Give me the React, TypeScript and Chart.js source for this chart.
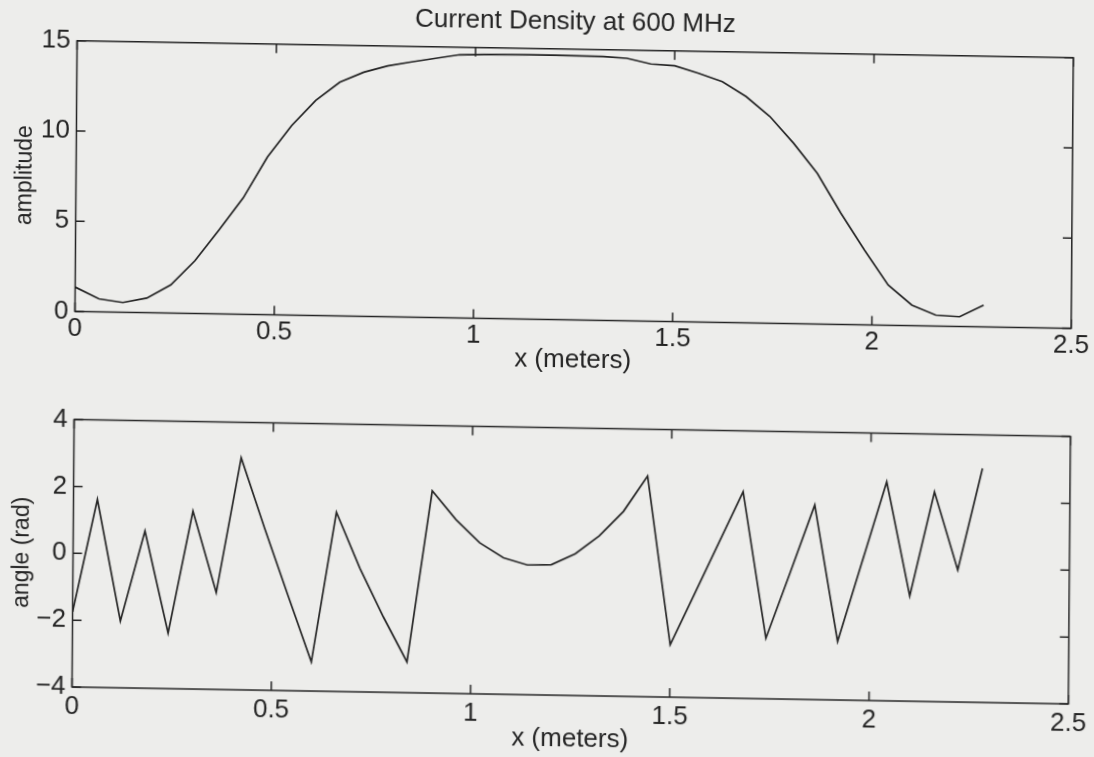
import React, { useEffect, useRef } from "react";
import { Chart, registerables } from "chart.js";

Chart.register(...registerables);

// ---- data ----
const xMeters = [
  0, 0.06, 0.12, 0.18, 0.24, 0.3, 0.36, 0.42, 0.48, 0.54, 0.6, 0.66, 0.72,
  0.78, 0.84, 0.9, 0.96, 1.02, 1.08, 1.14, 1.2, 1.26, 1.32, 1.38, 1.44, 1.5,
  1.56, 1.62, 1.68, 1.74, 1.8, 1.86, 1.92, 1.98, 2.04, 2.1, 2.16, 2.22, 2.28,
];

const amplitude = [
  1.35, 0.72, 0.54, 0.81, 1.56, 2.92, 4.65, 6.45, 8.74, 10.5, 11.92, 12.95,
  13.52, 13.9, 14.14, 14.36, 14.58, 14.62, 14.63, 14.64, 14.64, 14.63, 14.62,
  14.54, 14.25, 14.17, 13.78, 13.34, 12.53, 11.45, 9.99, 8.35, 6.16, 4.14,
  2.23, 1.14, 0.61, 0.54, 1.21,
];

const angleRad = [
  -1.75, 1.62, -2.0, 0.7, -2.34, 1.32, -1.1, 2.94, 0.85, -1.15, -3.13, 1.36,
  -0.3, -1.75, -3.08, 2.05, 1.2, 0.52, 0.08, -0.12, -0.1, 0.24, 0.79, 1.53,
  2.6, -2.43, -0.9, 0.64, 2.18, -2.19, -0.2, 1.82, -2.25, 0.15, 2.55, -0.85,
  2.27, -0.05, 3.0,
];

const xTickValues = [0, 0.5, 1, 1.5, 2, 2.5];
const ampTickValues = [0, 5, 10, 15];
const angleTickValues = [-4, -2, 0, 2, 4];

const chartTitle = "Current Density at 600 MHz";
const xLabel = "x (meters)";
const ampLabel = "amplitude";
const angleLabel = "angle (rad)";

// ---- styling ----
const INK = "#242424";
const PAPER = "#ededeb";
const FONT = "'Liberation Sans', Arial, Helvetica, sans-serif";
const TEXT_SIZE = 26;
const YTITLE_SIZE = 23;
const TICK_LEN = 9;

const frameTicks = {
  id: "frameTicks",
  afterDatasetsDraw(chart: any) {
    const { ctx, chartArea } = chart;
    const { left, right, top, bottom } = chartArea;
    const xs = chart.scales.x;
    const ys = chart.scales.y;
    ctx.save();
    ctx.strokeStyle = INK;
    ctx.lineWidth = 1.5;
    ctx.beginPath();
    ctx.rect(left, top, right - left, bottom - top);
    ctx.stroke();
    ctx.beginPath();
    xs.ticks.forEach((t: any) => {
      const px = xs.getPixelForValue(t.value);
      ctx.moveTo(px, bottom);
      ctx.lineTo(px, bottom - TICK_LEN);
      ctx.moveTo(px, top);
      ctx.lineTo(px, top + TICK_LEN);
    });
    ys.ticks.forEach((t: any) => {
      const py = ys.getPixelForValue(t.value);
      ctx.moveTo(left, py);
      ctx.lineTo(left + TICK_LEN, py);
      ctx.moveTo(right, py);
      ctx.lineTo(right - TICK_LEN, py);
    });
    ctx.stroke();
    ctx.restore();
  },
};

type PanelProps = {
  height: number;
  values: number[];
  yTicks: number[];
  yTitle: string;
  title?: string;
  padTop: number;
  xAxisH: number;
  xTickPad: number;
  xTitlePadB: number;
  yTickPad: number;
  yTitlePadT: number;
};

const fmt = (v: any) => String(Number(v)).replace("-", "\u2212");

function Panel(p: PanelProps) {
  const ref = useRef<HTMLCanvasElement | null>(null);
  useEffect(() => {
    if (!ref.current) return;
    const yMin = p.yTicks[0];
    const yMax = p.yTicks[p.yTicks.length - 1];
    const chart = new Chart(ref.current, {
      type: "line",
      data: {
        datasets: [
          {
            data: xMeters.map((x, i) => ({ x, y: p.values[i] })),
            borderColor: INK,
            borderWidth: 1.7,
            pointRadius: 0,
            tension: 0,
            fill: false,
          },
        ],
      },
      options: {
        animation: false,
        responsive: false,
        maintainAspectRatio: false,
        devicePixelRatio: 1,
        layout: { padding: { left: 0, right: 23.2, top: p.padTop, bottom: 0 } },
        plugins: {
          legend: { display: false },
          tooltip: { enabled: false },
          title: p.title
            ? {
                display: true,
                fullSize: false,
                text: p.title,
                color: INK,
                font: { family: FONT, size: TEXT_SIZE, weight: "normal", lineHeight: 1.2 },
                padding: { top: 6.4, bottom: 11.1 },
              }
            : { display: false },
        },
        scales: {
          x: {
            type: "linear",
            min: xTickValues[0],
            max: xTickValues[xTickValues.length - 1],
            afterBuildTicks: (s: any) => {
              s.ticks = xTickValues.map((v) => ({ value: v }));
            },
            ticks: {
              color: INK,
              font: { family: FONT, size: TEXT_SIZE, lineHeight: 1.2 },
              padding: p.xTickPad,
              maxRotation: 0,
              autoSkip: false,
              callback: fmt,
            },
            grid: { display: false, drawTicks: false },
            border: { display: false },
            title: {
              display: true,
              text: xLabel,
              color: INK,
              font: { family: FONT, size: TEXT_SIZE, lineHeight: 1.2 },
              padding: { top: 0, bottom: p.xTitlePadB },
            },
            afterFit: (s: any) => {
              s.height = p.xAxisH;
            },
          },
          y: {
            type: "linear",
            min: yMin,
            max: yMax,
            afterBuildTicks: (s: any) => {
              s.ticks = p.yTicks.map((v) => ({ value: v }));
            },
            ticks: {
              color: INK,
              font: { family: FONT, size: TEXT_SIZE, lineHeight: 1.2 },
              padding: p.yTickPad,
              callback: fmt,
            },
            grid: { display: false, drawTicks: false },
            border: { display: false },
            title: {
              display: true,
              text: p.yTitle,
              color: INK,
              font: { family: FONT, size: YTITLE_SIZE, lineHeight: 1.2 },
              padding: { top: p.yTitlePadT, bottom: 0 },
            },
            afterFit: (s: any) => {
              s.width = 74.5;
            },
          },
        },
      },
      plugins: [frameTicks],
    } as any);
    return () => chart.destroy();
  }, []);
  return (
    <canvas
      ref={ref}
      width={1094}
      height={p.height}
      style={{ display: "block", width: 1094, height: p.height }}
    />
  );
}

export default function App() {
  return (
    <div
      style={{
        position: "fixed",
        left: 0,
        top: 0,
        right: 0,
        bottom: 0,
        background: PAPER,
        overflow: "hidden",
      }}
    >
      <div
        style={{
          position: "absolute",
          left: 0,
          top: 0,
          width: 1094,
          height: 757,
          transform: "matrix(1, 0.017, -0.008, 1, 0, 0)",
          transformOrigin: "547px 378px",
        }}
      >
        <Panel
          height={378}
          values={amplitude}
          yTicks={ampTickValues}
          yTitle={ampLabel}
          title={chartTitle}
          padTop={0}
          xAxisH={58.5}
          xTickPad={2.2}
          xTitlePadB={2.9}
          yTickPad={6.5}
          yTitlePadT={10}
        />
        <Panel
          height={379}
          values={angleRad}
          yTicks={angleTickValues}
          yTitle={angleLabel}
          padTop={49.5}
          xAxisH={62}
          xTickPad={4.4}
          xTitlePadB={2.1}
          yTickPad={6.5}
          yTitlePadT={10}
        />
      </div>
    </div>
  );
}
